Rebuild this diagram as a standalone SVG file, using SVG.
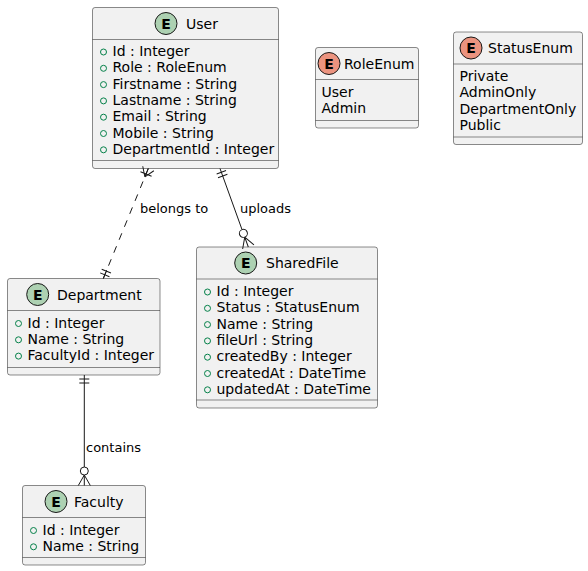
<svg xmlns="http://www.w3.org/2000/svg" width="588" height="571" viewBox="0 0 588 571">
  <defs>
    <style>
      .box { fill: #F1F1F1; stroke: #181818; stroke-width: 0.5; }
      .sep { stroke: #181818; stroke-width: 0.5; }
      .ent { fill: #ADD1B2; stroke: #181818; stroke-width: 1; }
      .enm { fill: #EB937F; stroke: #181818; stroke-width: 1; }
      .glyph { font-family: "DejaVu Sans", sans-serif; font-size: 14px; font-weight: bold; fill: #000; text-anchor: middle; }
      .title { font-family: "DejaVu Sans", sans-serif; font-size: 14px; fill: #000; }
      .attr { font-family: "DejaVu Sans", sans-serif; font-size: 14px; fill: #000; }
      .vis { fill: none; stroke: #038048; stroke-width: 1; }
      .label { font-family: "DejaVu Sans", sans-serif; font-size: 13px; fill: #000; }
      .edge { fill: none; stroke: #181818; stroke-width: 1; }
      .dash { stroke-dasharray: 7 7; }
      .ring { fill: #FFFFFF; stroke: #181818; stroke-width: 1; }
    </style>
  </defs>
  <rect width="588" height="571" fill="#FFFFFF"/>

  <!-- entity: User -->
  <g id="User">
    <rect class="box" x="92.5" y="7.5" width="186" height="161" rx="2.5"/>
    <circle class="ent" cx="166" cy="23.5" r="11"/>
    <text class="glyph" x="166" y="28.5">E</text>
    <text class="title" x="186" y="28.5">User</text>
    <line class="sep" x1="92.5" y1="39.5" x2="278.5" y2="39.5"/>
    <circle class="vis" cx="103.5" cy="52" r="3"/>
    <text class="attr" x="112.5" y="56">Id : Integer</text>
    <circle class="vis" cx="103.5" cy="68.3" r="3"/>
    <text class="attr" x="112.5" y="72.3">Role : RoleEnum</text>
    <circle class="vis" cx="103.5" cy="84.6" r="3"/>
    <text class="attr" x="112.5" y="88.6">Firstname : String</text>
    <circle class="vis" cx="103.5" cy="100.9" r="3"/>
    <text class="attr" x="112.5" y="104.9">Lastname : String</text>
    <circle class="vis" cx="103.5" cy="117.2" r="3"/>
    <text class="attr" x="112.5" y="121.2">Email : String</text>
    <circle class="vis" cx="103.5" cy="133.5" r="3"/>
    <text class="attr" x="112.5" y="137.5">Mobile : String</text>
    <circle class="vis" cx="103.5" cy="149.8" r="3"/>
    <text class="attr" x="112.5" y="153.8">DepartmentId : Integer</text>
    <line class="sep" x1="92.5" y1="160.5" x2="278.5" y2="160.5"/>
  </g>

  <!-- enum: RoleEnum -->
  <g id="RoleEnum">
    <rect class="box" x="315.5" y="47.5" width="103" height="80.5" rx="2.5"/>
    <circle class="enm" cx="329" cy="63.5" r="11"/>
    <text class="glyph" x="329" y="68.5">E</text>
    <text class="title" x="344" y="68.5">RoleEnum</text>
    <line class="sep" x1="315.5" y1="79.5" x2="418.5" y2="79.5"/>
    <text class="attr" x="321.5" y="96.5">User</text>
    <text class="attr" x="321.5" y="112.8">Admin</text>
    <line class="sep" x1="315.5" y1="120.5" x2="418.5" y2="120.5"/>
  </g>

  <!-- enum: StatusEnum -->
  <g id="StatusEnum">
    <rect class="box" x="453.5" y="32" width="129" height="112.5" rx="2.5"/>
    <circle class="enm" cx="471" cy="48" r="11"/>
    <text class="glyph" x="471" y="53">E</text>
    <text class="title" x="488" y="53">StatusEnum</text>
    <line class="sep" x1="453.5" y1="64" x2="582.5" y2="64"/>
    <text class="attr" x="459.5" y="81">Private</text>
    <text class="attr" x="459.5" y="97.3">AdminOnly</text>
    <text class="attr" x="459.5" y="113.6">DepartmentOnly</text>
    <text class="attr" x="459.5" y="129.9">Public</text>
    <line class="sep" x1="453.5" y1="137" x2="582.5" y2="137"/>
  </g>

  <!-- entity: Department -->
  <g id="Department">
    <rect class="box" x="7.5" y="278.5" width="152.5" height="96.5" rx="2.5"/>
    <circle class="ent" cx="37.7" cy="294.5" r="11"/>
    <text class="glyph" x="37.7" y="299.5">E</text>
    <text class="title" x="57" y="299.5">Department</text>
    <line class="sep" x1="7.5" y1="310.5" x2="160" y2="310.5"/>
    <circle class="vis" cx="18.5" cy="323.5" r="3"/>
    <text class="attr" x="27.5" y="327.5">Id : Integer</text>
    <circle class="vis" cx="18.5" cy="339.8" r="3"/>
    <text class="attr" x="27.5" y="343.8">Name : String</text>
    <circle class="vis" cx="18.5" cy="356.1" r="3"/>
    <text class="attr" x="27.5" y="360.1">FacultyId : Integer</text>
    <line class="sep" x1="7.5" y1="367.5" x2="160" y2="367.5"/>
  </g>

  <!-- entity: SharedFile -->
  <g id="SharedFile">
    <rect class="box" x="196.5" y="247" width="181" height="161" rx="2.5"/>
    <circle class="ent" cx="245.7" cy="263" r="11"/>
    <text class="glyph" x="245.7" y="268">E</text>
    <text class="title" x="266" y="268">SharedFile</text>
    <line class="sep" x1="196.5" y1="279" x2="377.5" y2="279"/>
    <circle class="vis" cx="207.5" cy="292" r="3"/>
    <text class="attr" x="216.5" y="296">Id : Integer</text>
    <circle class="vis" cx="207.5" cy="308.3" r="3"/>
    <text class="attr" x="216.5" y="312.3">Status : StatusEnum</text>
    <circle class="vis" cx="207.5" cy="324.6" r="3"/>
    <text class="attr" x="216.5" y="328.6">Name : String</text>
    <circle class="vis" cx="207.5" cy="340.9" r="3"/>
    <text class="attr" x="216.5" y="344.9">fileUrl : String</text>
    <circle class="vis" cx="207.5" cy="357.2" r="3"/>
    <text class="attr" x="216.5" y="361.2">createdBy : Integer</text>
    <circle class="vis" cx="207.5" cy="373.5" r="3"/>
    <text class="attr" x="216.5" y="377.5">createdAt : DateTime</text>
    <circle class="vis" cx="207.5" cy="389.8" r="3"/>
    <text class="attr" x="216.5" y="393.8">updatedAt : DateTime</text>
    <line class="sep" x1="196.5" y1="400" x2="377.5" y2="400"/>
  </g>

  <!-- entity: Faculty -->
  <g id="Faculty">
    <rect class="box" x="22.5" y="485.5" width="123" height="79.5" rx="2.5"/>
    <circle class="ent" cx="56" cy="501.5" r="11"/>
    <text class="glyph" x="56" y="506.5">E</text>
    <text class="title" x="74" y="506.5">Faculty</text>
    <line class="sep" x1="22.5" y1="517.5" x2="145.5" y2="517.5"/>
    <circle class="vis" cx="33.5" cy="530.5" r="3"/>
    <text class="attr" x="42.5" y="534.5">Id : Integer</text>
    <circle class="vis" cx="33.5" cy="546.8" r="3"/>
    <text class="attr" x="42.5" y="550.8">Name : String</text>
    <line class="sep" x1="22.5" y1="557.5" x2="145.5" y2="557.5"/>
  </g>

  <!-- relationships -->
  <g id="connectors">
    <!-- User (one or many) to Department (exactly one), dashed: belongs to -->
    <line class="edge dash" x1="148.3" y1="168.5" x2="103.3" y2="278.5"/>
    <g transform="translate(148.3,168.5) rotate(112.25)">
      <path class="edge" d="M9,0 L0,-6 M9,0 L0,0 M9,0 L0,6 M6,-6 L6,6"/>
    </g>
    <g transform="translate(103.3,278.5) rotate(-67.75)">
      <path class="edge" d="M0,0 L9,0 M4,-5 L4,5 M8,-5 L8,5"/>
    </g>
    <text class="label" x="140" y="212.5">belongs to</text>

    <!-- User (exactly one) to SharedFile (zero or many): uploads -->
    <line class="edge" x1="220" y1="168.5" x2="242.03" y2="229.6"/>
    <g transform="translate(220,168.5) rotate(70.18)">
      <path class="edge" d="M4,-5 L4,5 M8,-5 L8,5"/>
    </g>
    <g transform="translate(248.3,247) rotate(-109.82)">
      <path class="edge" d="M10.5,0 L0,-6 M10.5,0 L0,0 M10.5,0 L0,6"/>
      <circle class="ring" cx="14.5" cy="0" r="4"/>
    </g>
    <text class="label" x="240" y="212.5">uploads</text>

    <!-- Department (exactly one) to Faculty (zero or many): contains -->
    <line class="edge" x1="84.3" y1="375" x2="84.3" y2="467"/>
    <g transform="translate(84.3,375) rotate(90)">
      <path class="edge" d="M4,-5 L4,5 M8,-5 L8,5"/>
    </g>
    <g transform="translate(84.3,485.5) rotate(-90)">
      <path class="edge" d="M10.5,0 L0,-6 M10.5,0 L0,0 M10.5,0 L0,6"/>
      <circle class="ring" cx="14.5" cy="0" r="4"/>
    </g>
    <text class="label" x="86" y="451.5">contains</text>
  </g>
</svg>
